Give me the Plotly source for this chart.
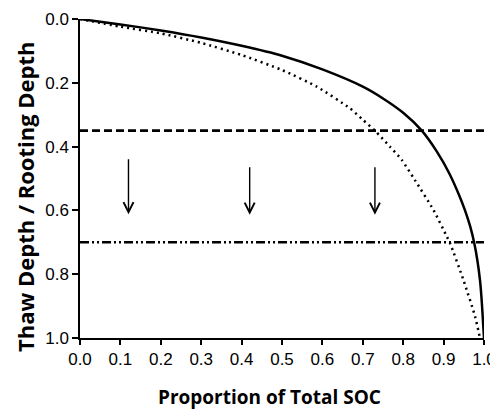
import plotly.graph_objects as go

# Solid curve (proportion of total SOC vs. thaw depth / rooting depth)
solid_x = [0.0, 0.1, 0.2, 0.3, 0.4, 0.5, 0.6, 0.7, 0.75, 0.8, 0.846, 0.883,
           0.9145, 0.940, 0.953, 0.966, 0.976, 0.984, 0.990, 0.9936, 0.9963, 1.0]
solid_y = [0.0, 0.017, 0.036, 0.058, 0.084, 0.115, 0.158, 0.212, 0.249, 0.294, 0.35, 0.415,
           0.485, 0.557, 0.60, 0.651, 0.703, 0.76, 0.818, 0.87, 0.923, 1.0]

# Dotted curve
dot_x = [0.0, 0.1, 0.2, 0.3, 0.4, 0.5, 0.586, 0.668, 0.701, 0.73, 0.767, 0.796,
         0.829, 0.875, 0.908, 0.916, 0.949, 0.978, 0.99]
dot_y = [0.0, 0.024, 0.045, 0.075, 0.113, 0.16, 0.212, 0.28, 0.317, 0.35, 0.40, 0.441,
         0.505, 0.599, 0.682, 0.703, 0.818, 0.933, 1.0]

# Horizontal reference depths
dash_depth = 0.35
dashdot_depth = 0.70

# Arrows: x position, start depth, end depth
arrow_x = [0.12, 0.42, 0.73]
arrow_y0 = [0.435, 0.46, 0.46]
arrow_y1 = [0.612, 0.614, 0.614]

x_ticks = [0.0, 0.1, 0.2, 0.3, 0.4, 0.5, 0.6, 0.7, 0.8, 0.9, 1.0]
y_ticks = [0.0, 0.2, 0.4, 0.6, 0.8, 1.0]

fig = go.Figure()
fig.add_trace(go.Scatter(x=[0, 1], y=[dash_depth, dash_depth], mode="lines",
                         line=dict(color="black", width=2.7, dash="8px,4px"),
                         showlegend=False, hoverinfo="skip"))
fig.add_trace(go.Scatter(x=[0, 1], y=[dashdot_depth, dashdot_depth], mode="lines",
                         line=dict(color="black", width=2.5, dash="9px,3px,2px,3px,2px,3px"),
                         showlegend=False, hoverinfo="skip"))
fig.add_trace(go.Scatter(x=dot_x, y=dot_y, mode="lines", line_shape="spline",
                         line=dict(color="black", width=2.5, dash="2px,4px", smoothing=0.6),
                         showlegend=False))
fig.add_trace(go.Scatter(x=solid_x, y=solid_y, mode="lines", line_shape="spline",
                         line=dict(color="black", width=2.5, smoothing=0.8),
                         showlegend=False))

for xa, y0, y1 in zip(arrow_x, arrow_y0, arrow_y1):
    fig.add_annotation(x=xa, y=y1, ax=xa, ay=y0, xref="x", yref="y", axref="x", ayref="y",
                       text="", showarrow=True, arrowhead=5, arrowsize=1.4, arrowwidth=1.4,
                       arrowcolor="black")

fig.add_annotation(x=0.468, y=-0.185, xref="paper", yref="paper", showarrow=False,
                   text="Proportion of Total SOC", yanchor="middle", xanchor="center",
                   font=dict(family="Open Sans", size=19, color="black", weight="bold"))
fig.add_annotation(x=-0.136, y=0.442, xref="paper", yref="paper", showarrow=False,
                   text="Thaw Depth / Rooting Depth", textangle=-90, xanchor="center",
                   yanchor="middle",
                   font=dict(family="Open Sans", size=22, color="black", weight="bold"))

tick_font = dict(family="Liberation Sans Narrow, Arial Narrow, Liberation Sans", size=17, color="black")
fig.update_xaxes(range=[0, 1], tickvals=x_ticks, ticktext=[f"{v:.1f}" for v in x_ticks],
                 showline=True, linecolor="black", linewidth=1.5, ticks="outside",
                 ticklen=5, tickwidth=1.5, tickcolor="black", showgrid=False, zeroline=False,
                 tickfont=tick_font, automargin=False)
fig.update_yaxes(range=[1, 0], tickvals=y_ticks, ticktext=[f"{v:.1f}" for v in y_ticks],
                 showline=True, linecolor="black", linewidth=1.5, ticks="outside",
                 ticklen=6, tickwidth=1.5, tickcolor="black", showgrid=False, zeroline=False,
                 tickfont=tick_font, automargin=False)
fig.update_layout(width=490, height=402, margin=dict(l=72, r=14, t=11, b=72),
                  plot_bgcolor="white", paper_bgcolor="white")
fig.write_html("out.html")
